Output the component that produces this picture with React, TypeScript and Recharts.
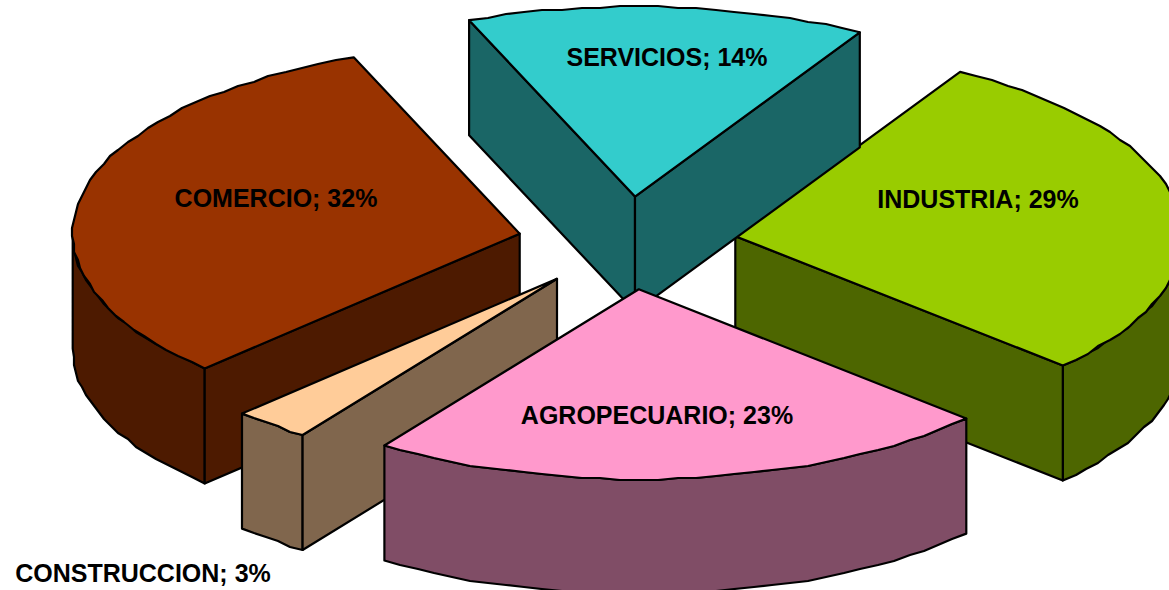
import React from "react";
import { PieChart, Pie } from "recharts";

// Slices, listed in the order they are stacked on the page (back to front),
// running counter-clockwise round the pie.
const categories = ["INDUSTRIA", "SERVICIOS", "COMERCIO", "CONSTRUCCION", "AGROPECUARIO"];
const shares = [28.53, 14.44, 31.5, 2.81, 22.72];
const topColors = ["#99CC00", "#33CCCC", "#993300", "#FFCC99", "#FF99CC"];
const sideColors = ["#4D6600", "#1A6666", "#4D1A00", "#80664D", "#804D66"];
const labelCentres = [
  [978, 199],
  [667, 57],
  [276, 198],
  [143, 573],
  [657, 415],
];

const table = categories.map((name, i) => ({
  name,
  value: shares[i],
  fill: topColors[i],
  side: sideColors[i],
}));

const SQUASH = 190 / 447;
const DEPTH = 115;
const EXPLODE = 0.245;
const START = -42.9;
const RAD = Math.PI / 180;
const GRID = 2;
const snap = (v: number) => Math.round(v / GRID) * GRID;

function Slice3D(props: any) {
  const { cx, cy, outerRadius: r, startAngle, endAngle, fill, payload } = props;
  const lo = Math.min(startAngle, endAngle);
  const hi = Math.max(startAngle, endAngle);
  const mid = ((lo + hi) / 2) * RAD;
  const ox = cx + EXPLODE * r * Math.cos(mid);
  const oy = cy - EXPLODE * r * SQUASH * Math.sin(mid);
  const rim = (deg: number): [number, number] => [
    ox + r * Math.cos(deg * RAD),
    oy - r * SQUASH * Math.sin(deg * RAD),
  ];
  const arc = (a: number, b: number) => {
    const steps = Math.max(2, Math.ceil((b - a) / 2.5));
    const pts: [number, number][] = [];
    for (let i = 0; i <= steps; i++) {
      const p = rim(a + ((b - a) * i) / steps);
      pts.push(i === 0 || i === steps ? p : [snap(p[0]), snap(p[1])]);
    }
    return pts;
  };
  const toPath = (pts: [number, number][]) =>
    "M" + pts.map((p) => `${p[0].toFixed(1)},${p[1].toFixed(1)}`).join("L") + "Z";
  const side = payload?.side ?? props.side;
  const line = { stroke: "#000", strokeWidth: 2.2, strokeLinejoin: "round" as const };

  // outer wall: the parts of the rim that look downward
  const walls: React.ReactNode[] = [];
  for (const base of [-360, 0, 360]) {
    const a = Math.max(lo, base + 180);
    const b = Math.min(hi, base + 360);
    if (b > a) {
      const upper = arc(a, b);
      const lower = [...upper].reverse().map(([x, y]) => [x, y + DEPTH] as [number, number]);
      walls.push(<path key={base} d={toPath([...upper, ...lower])} fill={side} {...line} />);
    }
  }
  // cut walls, only where they face the viewer
  const cut = (deg: number, k: string) => {
    const p = rim(deg);
    return (
      <path
        key={k}
        d={toPath([[ox, oy], p, [p[0], p[1] + DEPTH], [ox, oy + DEPTH]])}
        fill={side}
        {...line}
      />
    );
  };
  const cuts: React.ReactNode[] = [];
  if (Math.cos(hi * RAD) < 0) cuts.push(cut(hi, "hi"));
  if (Math.cos(lo * RAD) > 0) cuts.push(cut(lo, "lo"));

  return (
    <g>
      {walls}
      {cuts}
      <path d={toPath([[ox, oy], ...arc(lo, hi)])} fill={fill} {...line} />
    </g>
  );
}

function SliceLabel(props: any) {
  const i = props.index;
  const [x, y] = labelCentres[i];
  return (
    <text
      x={x}
      y={y}
      textAnchor="middle"
      dominantBaseline="central"
      fontFamily="'Liberation Sans', Arial, sans-serif"
      fontWeight={700}
      fontSize={25}
      fill="#000"
    >
      {`${categories[i]}; ${Math.round(shares[i])}%`}
    </text>
  );
}

export default function App() {
  return (
    <div style={{ position: "absolute", left: 0, top: 0, width: 1169, height: 590, overflow: "hidden", background: "#fff" }}>
      <PieChart width={1169} height={590} margin={{ top: 0, right: 0, bottom: 0, left: 0 }}>
        <Pie
          data={table}
          dataKey="value"
          nameKey="name"
          cx={627}
          cy={243}
          innerRadius={0}
          outerRadius={447}
          startAngle={START}
          endAngle={START + 360}
          paddingAngle={0}
          isAnimationActive={false}
          shape={Slice3D}
          label={SliceLabel}
          labelLine={false}
          stroke="#000"
        />
      </PieChart>
    </div>
  );
}
